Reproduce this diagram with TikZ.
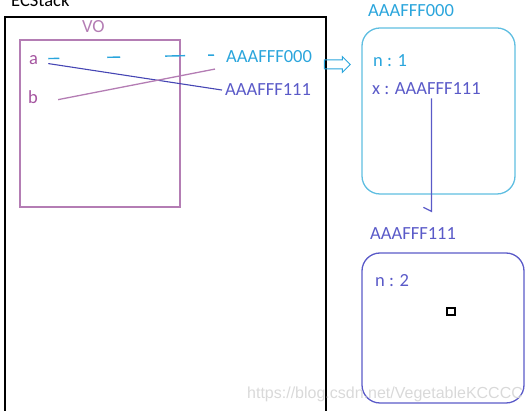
\documentclass[tikz,border=0pt]{standalone}
\usepackage{fontspec}
\setmainfont{Carlito}
\newfontfamily\markfont{Liberation Sans}
\usetikzlibrary{shapes.arrows}

\definecolor{vopurple}{RGB}{180,125,180}
\definecolor{varpurple}{RGB}{165,85,160}
\definecolor{addrcyan}{RGB}{42,165,220}
\definecolor{boxcyan}{RGB}{95,190,225}
\definecolor{addrblue}{RGB}{90,90,200}
\definecolor{refblue}{RGB}{70,70,180}

\begin{document}
\begin{tikzpicture}[x=1pt,y=-1pt,
  every node/.style={inner sep=0pt,font=\fontsize{18.5}{20}\selectfont},
  heapbox/.style={draw,line width=1.3pt,rounded corners=18pt},
  addr/.style={anchor=base west}]
\useasboundingbox (0,0) rectangle (531,411);

% stack
\node[addr] (ecs) at (11,7) {ECStack};
\draw[line width=1.2pt] (5,411) -- (5,17) -- (326,17) -- (326,411);

\draw[vopurple,line width=1.3pt] (20,40) rectangle (180,207);
\node[addr,text=vopurple] (vo) at (82,33) {VO};
\node[addr,text=varpurple] (a) at (29,65) {a};
\node[addr,text=varpurple] (b) at (28,104) {b};

\node[addr,text=addrcyan] (addrA) at (226,63) {AAAFFF000};
\node[addr,text=addrblue] (addrB) at (225,96) {AAAFFF111};

\draw[addrcyan,line width=1.4pt,
  dash pattern=on 11pt off 48pt on 13pt off 45pt on 20pt off 23pt on 6pt off 100pt]
  ([xshift=10pt,yshift=2pt]a.east) -- ([xshift=-12pt,yshift=2pt]addrA.west);
\draw[refblue,line width=1.1pt] ([xshift=10pt,yshift=-3pt]a.east) -- ([xshift=-3pt]addrB.west);
\draw[vopurple,line width=1.3pt] ([xshift=20pt,yshift=-2pt]b.east) -- ([xshift=-11pt,yshift=-12pt]addrA.west);

\node[single arrow,draw=addrcyan,line width=1pt,inner sep=4pt,minimum height=26pt,
  single arrow head extend=3.5pt] (arr) at (335,64.5) {};

% heap
\node[heapbox,draw=boxcyan,minimum width=153pt,minimum height=166pt] (objA) at (438.5,111) {};
\node[addr,text=addrcyan] (labA) at (368,17) {AAAFFF000};
\node[addr,text=addrcyan] (n1) at (373,67) {n : 1};
\node[addr,text=addrblue] (xval) at (372,95) {x : AAAFFF111};

\node[heapbox,draw=addrblue,minimum width=162pt,minimum height=150pt] (objB) at (443,328) {};
\node[addr,text=addrblue] (labB) at (370,240) {AAAFFF111};
\node[addr,text=addrblue] (n2) at (375,287) {n : 2};

\draw[addrblue,line width=1.2pt] ([xshift=5pt,yshift=-3pt]xval.south) -- ++(0,113) -- ++(-8,-4);

\draw[line width=1.3pt] (447,308) rectangle (455,315);

\node[addr,text=black!15,font=\markfont\fontsize{16}{18}\selectfont] (mark) at (247,399)
  {https://blog.csdn.net/VegetableKCCCC};
\end{tikzpicture}
\end{document}
